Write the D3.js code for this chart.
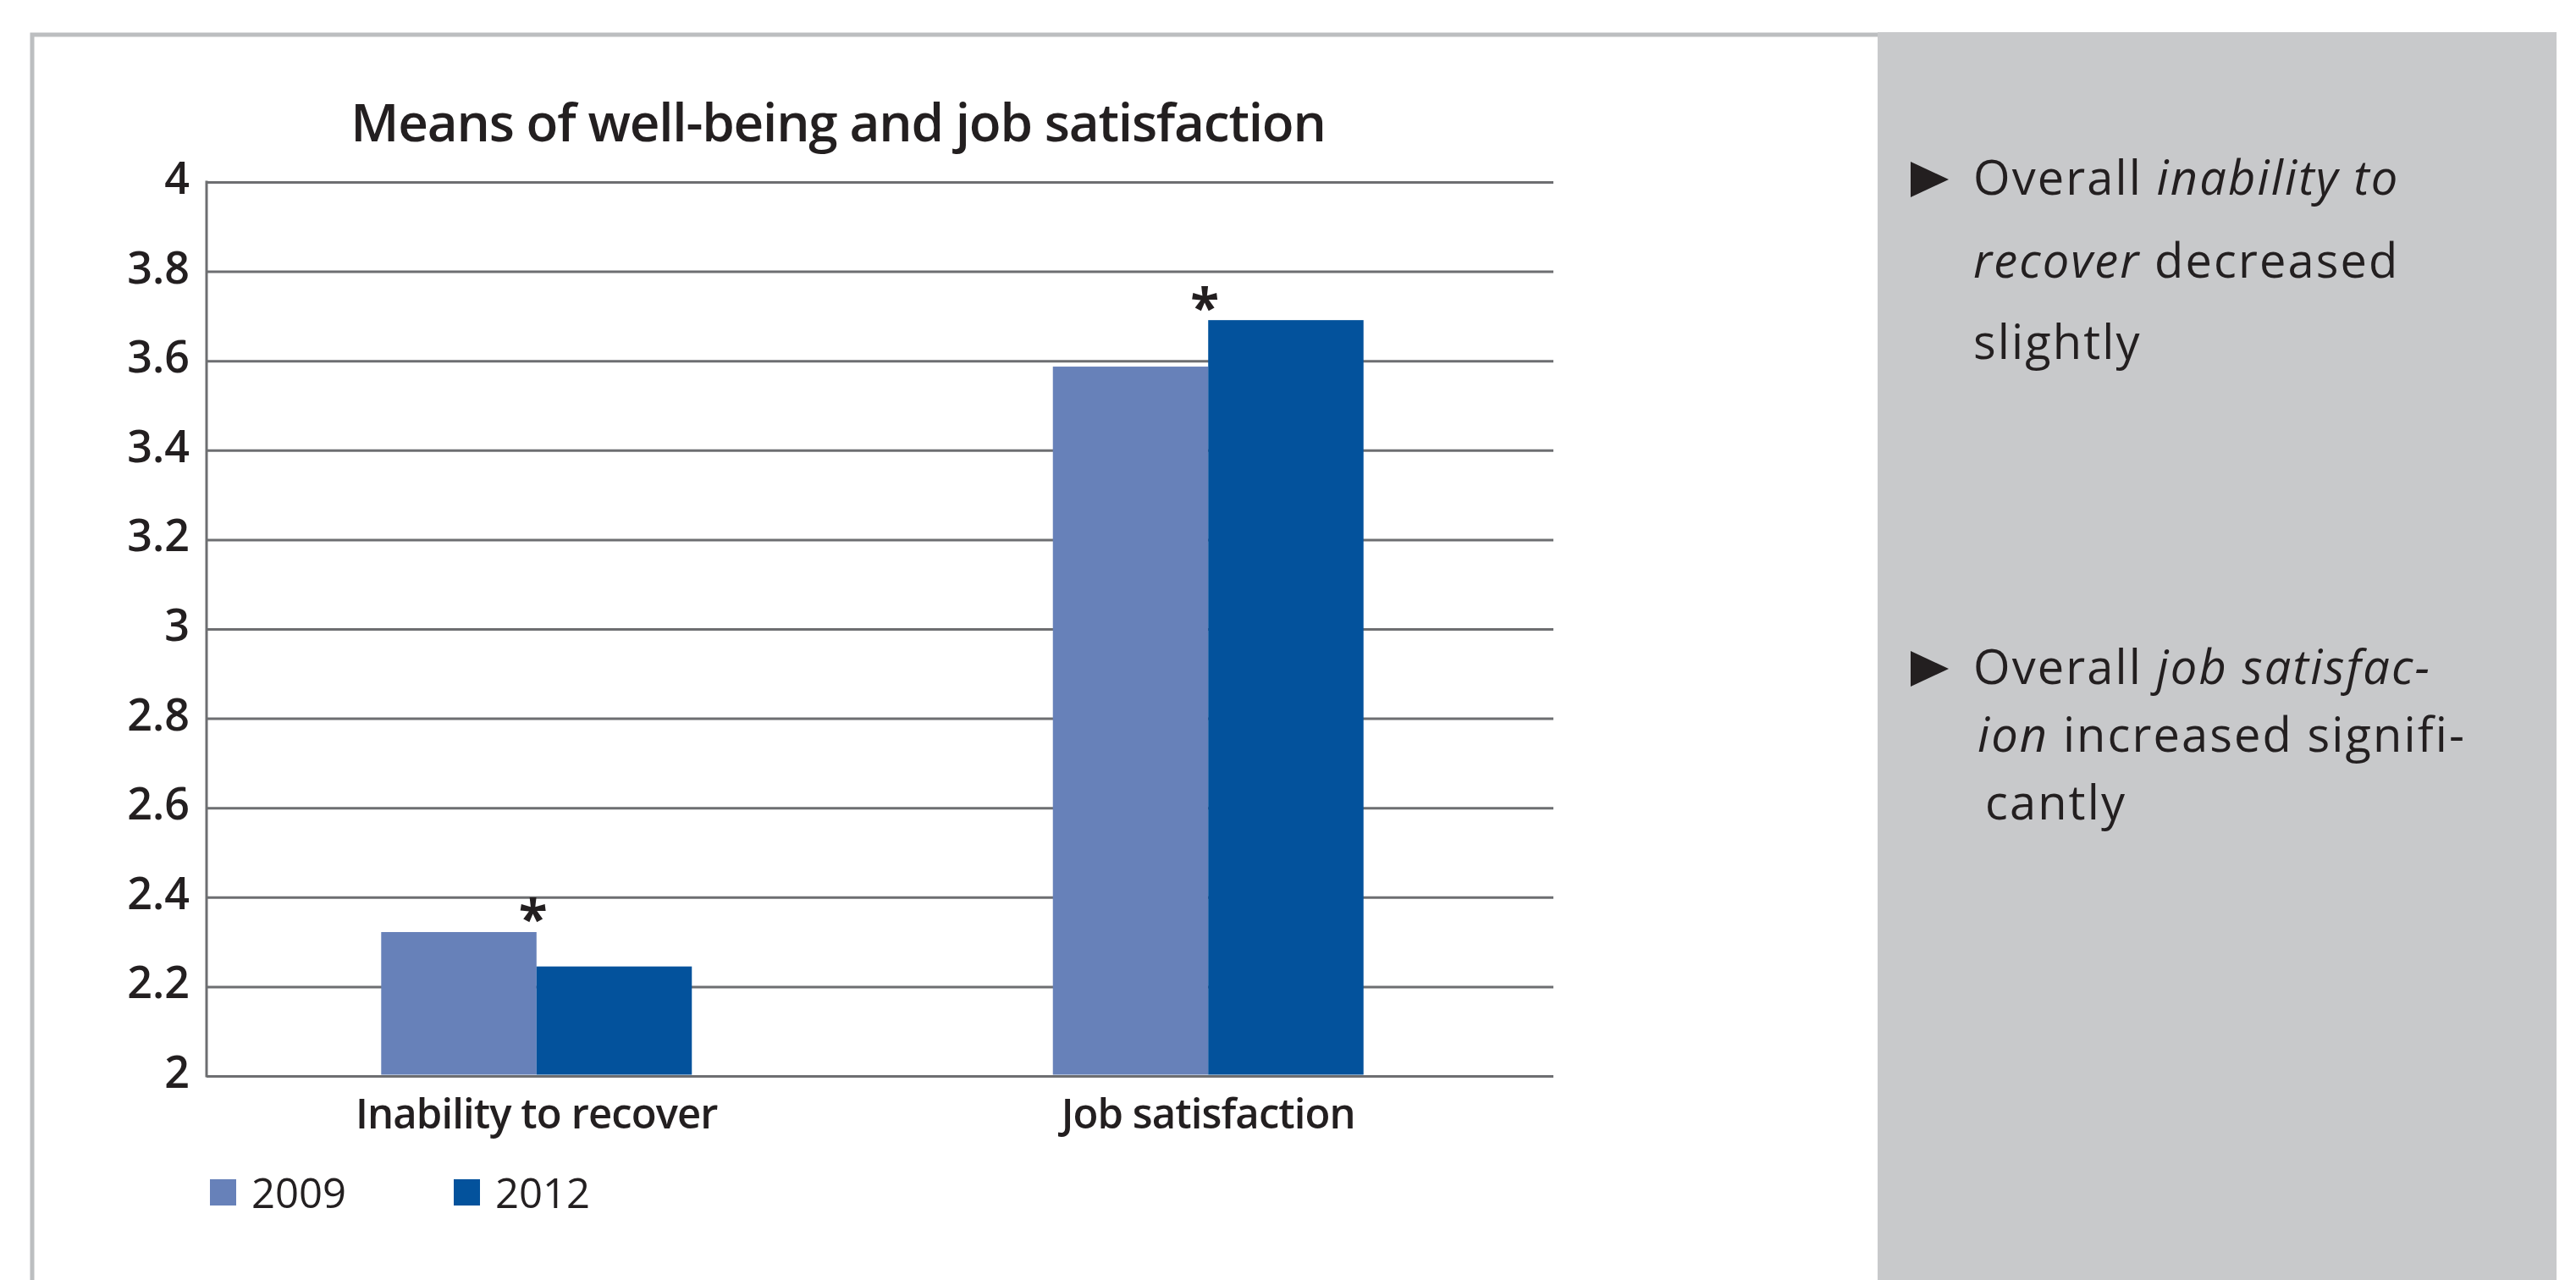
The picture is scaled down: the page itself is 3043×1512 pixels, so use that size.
<!DOCTYPE html>
<html lang="en">
<head>
    <meta charset="UTF-8">
    <title>Means of well-being and job satisfaction</title>
    <script src="https://d3js.org/d3.v7.min.js"></script>
    <style>
        body { margin: 0; background: #fff; }
        svg text { fill: #231f20; font-family: "Open Sans", "Noto Sans", sans-serif; }
    </style>
</head>
<body>
    <svg id="chart"></svg>
    <script>
        // data
        const categories = ["Inability to recover", "Job satisfaction"];
        const years = ["2009", "2012"];
        const values2009 = [2.322, 3.587];
        const values2012 = [2.245, 3.691];
        const significant = [true, true];
        const yTicks = [2, 2.2, 2.4, 2.6, 2.8, 3, 3.2, 3.4, 3.6, 3.8, 4];
        const colors = ["#6781b9", "#03529c"];
        const title = "Means of well-being and job satisfaction";

        // side panel notes, [text, italic]
        const notes = [
            [[["Overall ", false], ["inability to", true]],
             [["recover", true], [" decreased", false]],
             [["slightly", false]]],
            [[["Overall ", false], ["job satisfac-", true]],
             [["ion", true], [" increased signifi-", false]],
             [["cantly", false]]]
        ];

        const width = 3043, height = 1512;
        const plot = {left: 244, right: 1835, top: 215, bottom: 1271};

        const svg = d3.select("#chart").attr("width", width).attr("height", height);

        // frame and grey side panel
        svg.append("path")
            .attr("d", `M38,${height} V41 H2218`)
            .attr("fill", "none")
            .attr("stroke", "#bcbec0")
            .attr("stroke-width", 5);
        svg.append("rect")
            .attr("x", 2218).attr("y", 38)
            .attr("width", 802).attr("height", height - 38)
            .attr("fill", "#c8c9cb");

        const y = d3.scaleLinear().domain([2, 4]).range([plot.bottom, plot.top]);
        const x0 = d3.scaleBand().domain(categories).range([plot.left, 1817])
            .paddingInner(0.5375).paddingOuter(0.26);
        const x1 = d3.scaleBand().domain(years).range([0, x0.bandwidth()]);

        // gridlines + tick labels
        const yAxis = svg.append("g")
            .attr("transform", `translate(${plot.left},0)`)
            .call(d3.axisLeft(y).tickValues(yTicks).tickFormat(d3.format(""))
                .tickSize(-(plot.right - plot.left)).tickPadding(20));
        yAxis.select(".domain").remove();
        yAxis.selectAll(".tick line").attr("stroke", "#6d6e71").attr("stroke-width", 3);
        yAxis.selectAll(".tick text")
            .attr("dy", "0.26em")
            .style("font-size", "52px").style("font-weight", 600);

        svg.append("line")
            .attr("x1", plot.left).attr("x2", plot.left)
            .attr("y1", plot.top - 1.5).attr("y2", plot.bottom + 1.5)
            .attr("stroke", "#6d6e71").attr("stroke-width", 3);

        // bars
        const rows = categories.map((c, i) => ({cat: c, vals: [values2009[i], values2012[i]], sig: significant[i]}));
        const groups = svg.append("g").selectAll("g").data(rows).join("g")
            .attr("transform", d => `translate(${x0(d.cat)},0)`);
        groups.selectAll("rect")
            .data(d => d.vals.map((v, j) => ({year: years[j], v: v})))
            .join("rect")
            .attr("x", d => x1(d.year))
            .attr("width", x1.bandwidth())
            .attr("y", d => y(d.v))
            .attr("height", d => y(2) - y(d.v) - 1.5)
            .attr("fill", (d, j) => colors[j]);

        // significance stars
        groups.filter(d => d.sig).append("text")
            .attr("x", x0.bandwidth() / 2 - 4)
            .attr("y", d => y(d3.max(d.vals)) - 31)
            .attr("dy", "0.62em")
            .attr("text-anchor", "middle")
            .style("font-size", "62px").style("font-weight", "bold")
            .text("*");

        // category labels
        svg.append("g").selectAll("text").data(categories).join("text")
            .attr("x", d => x0(d) + x0.bandwidth() / 2)
            .attr("y", 1333)
            .attr("text-anchor", "middle")
            .style("font-size", "49px").style("font-weight", 600)
            .style("letter-spacing", "-0.9px")
            .text(d => d);

        // title
        svg.append("text")
            .attr("x", 990).attr("y", 167)
            .attr("text-anchor", "middle")
            .style("font-size", "62px").style("font-weight", 600)
            .style("letter-spacing", "-1.2px")
            .text(title);

        // legend
        const legendX = [248, 536];
        const legend = svg.append("g").selectAll("g").data(years).join("g")
            .attr("transform", (d, i) => `translate(${legendX[i]},1393)`);
        legend.append("rect").attr("width", 31).attr("height", 31).attr("fill", (d, i) => colors[i]);
        legend.append("text").attr("x", 49).attr("y", 34)
            .style("font-size", "49px")
            .text(d => d);

        // notes in the side panel
        const noteBaselines = [[230, 328, 424], [808, 888, 968]];
        const noteIndent = [[0, 0, 0], [0, 5, 14]];
        notes.forEach((lines, n) => {
            const b = noteBaselines[n][0];
            svg.append("path")
                .attr("d", `M2257,${b - 39} L2302,${b - 18} L2257,${b + 3} Z`)
                .attr("fill", "#231f20");
            lines.forEach((parts, k) => {
                const t = svg.append("text")
                    .attr("x", 2331 + noteIndent[n][k])
                    .attr("y", noteBaselines[n][k])
                    .style("font-size", "56px")
                    .style("letter-spacing", "2.1px");
                parts.forEach(p => {
                    t.append("tspan").style("font-style", p[1] ? "italic" : "normal").text(p[0]);
                });
            });
        });
    </script>
</body>
</html>
